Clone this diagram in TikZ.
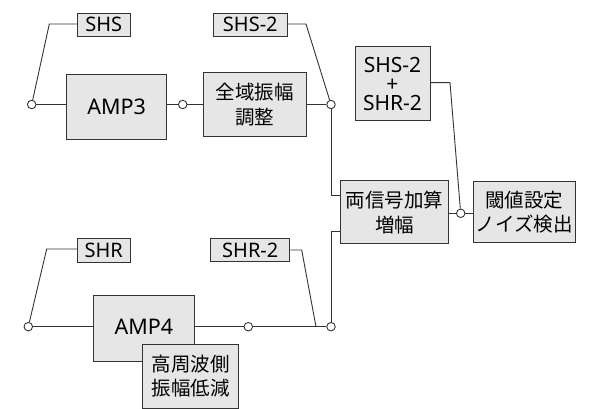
\documentclass[tikz,border=0pt]{standalone}
\usepackage{fontspec}
\setmainfont{Noto Sans}
\newfontfamily\jp{Noto Sans CJK JP}
\definecolor{boxfill}{HTML}{E6E6E6}
\definecolor{linec}{HTML}{333333}
\tikzset{
  box/.style={draw=linec, line width=1pt, fill=boxfill, inner sep=0pt, align=center},
  lbl/.style={box, font=\fontsize{20}{20}\selectfont},
  jbox/.style={box, font=\jp\fontsize{19.5}{24.5}\selectfont},
  dot/.style={circle, draw=linec, line width=0.9pt, fill=white, minimum size=8.5pt, inner sep=0pt},
  wire/.style={draw=linec, line width=0.9pt},
}
\begin{document}
\begin{tikzpicture}[x=1pt, y=-1pt]
\useasboundingbox (0,0) rectangle (590,409);
% top row
\node[lbl, minimum width=52.7pt, minimum height=22.7pt] (shs) at (103.7,24.7) {SHS};
\node[lbl, minimum width=74pt, minimum height=22.7pt] (shs2) at (250.3,24.7) {SHS-2};
\node[box, font=\fontsize{21.5}{21.5}\selectfont, minimum width=100pt, minimum height=65.3pt] (amp3) at (116.7,106.7) {AMP3};
\node[jbox, minimum width=102.7pt, minimum height=64pt] (zen) at (254.7,104.7) {全域振幅\\調整};
\node[dot] (c1) at (31.7,104.5) {};
\node[dot] (c2) at (182.7,104.5) {};
\node[dot] (c3) at (331,104.5) {};
% sum box
\node[box, font=\fontsize{21}{19}\selectfont, minimum width=75pt, minimum height=74pt] (sum) at (392.5,83.7) {SHS-2\\+\\SHR-2};
% middle
\node[jbox, minimum width=107.6pt, minimum height=63.3pt] (ryo) at (394.5,212.3) {両信号加算\\増幅};
\node[dot] (c4) at (460.7,213.3) {};
\node[jbox, minimum width=102pt, minimum height=61pt] (iki) at (524.3,212.2) {閾値設定\\ノイズ検出};
% bottom row
\node[lbl, minimum width=52.7pt, minimum height=24.4pt] (shr) at (103.7,250.5) {SHR};
\node[lbl, minimum width=79.3pt, minimum height=23.4pt] (shr2) at (250.3,250) {SHR-2};
\node[dot] (c5) at (28.3,326.7) {};
\node[dot] (c6) at (248.3,326.7) {};
\node[dot] (c7) at (331,326.7) {};
\coordinate (k1) at (49.3,24);
\coordinate (k2) at (306,24);
\coordinate (k3) at (46.7,249);
\coordinate (k4) at (301.7,250);
\coordinate (k5) at (316,326.7);
\coordinate (k6) at (450,82.7);
\coordinate (r1) at ([yshift=17.3pt]ryo.west);
\coordinate (r2) at ([yshift=-19.4pt]ryo.west);
% wires top
\draw[wire] (c1) -- (c1 -| amp3.west);
\draw[wire] (amp3.east |- c2) -- (c2) -- (c2 -| zen.west);
\draw[wire] (zen.east |- c3) -- (c3);
\draw[wire] (shs.west |- k1) -- (k1) -- (c1);
\draw[wire] (shs2.east |- k2) -- (k2) -- (c3);
\draw[wire] (c3) -- (c3 |- r1) -- (r1);
\draw[wire] (c7) -- (c7 |- r2) -- (r2);
\draw[wire] (ryo.east |- c4) -- (c4) -- (c4 -| iki.west);
\draw[wire] (sum.east |- k6) -- (k6) -- (c4);
% bottom wires
\node[box, font=\fontsize{21.5}{21.5}\selectfont, minimum width=101pt, minimum height=65.7pt] (amp4) at (143.8,328.8) {};
\node[font=\fontsize{21.5}{21.5}\selectfont, inner sep=0pt] (amp4t) at (143.8,327) {AMP4};
\draw[wire] (c5) -- (c5 -| amp4.west);
\draw[wire] (amp4.east |- c6) -- (c6) -- (c7);
\draw[wire] (shr.west |- k3) -- (k3) -- (c5);
\draw[wire] (shr2.east |- k4) -- (k4) -- (k5);
\node[jbox, minimum width=95.6pt, minimum height=64.3pt] (kosh) at (190.5,376.2) {高周波側\\振幅低減};
\end{tikzpicture}
\end{document}
